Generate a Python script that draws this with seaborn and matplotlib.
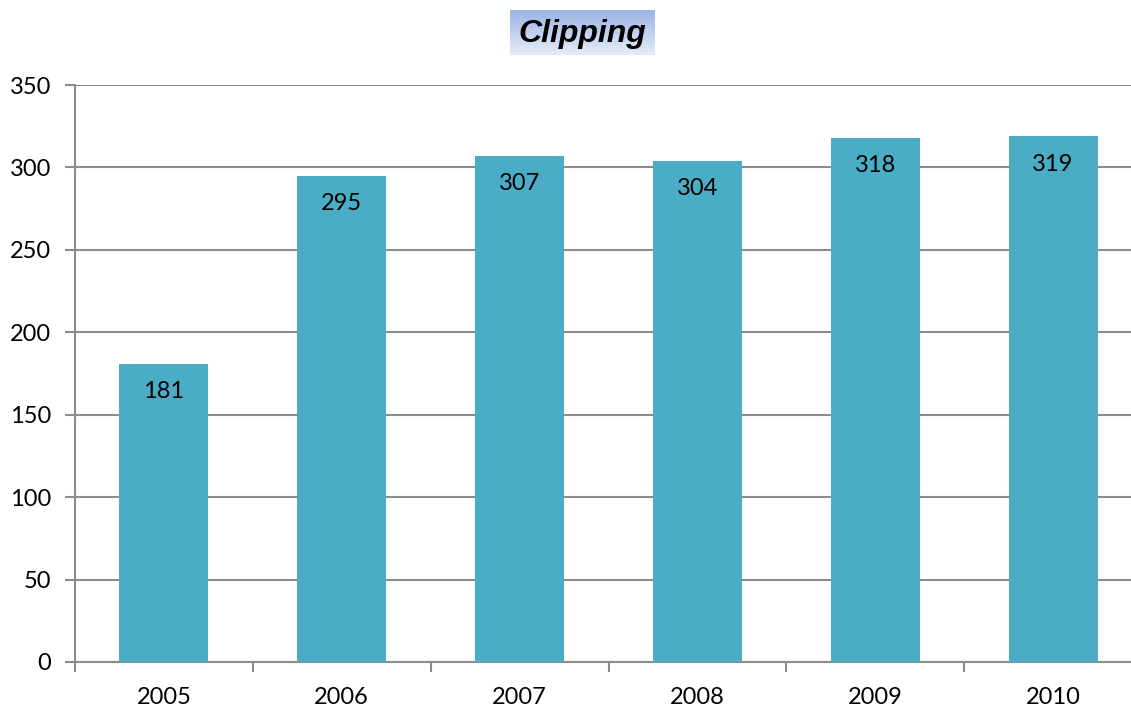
import numpy as np
import pandas as pd
import matplotlib
matplotlib.use("Agg")
import matplotlib.pyplot as plt
from matplotlib.colors import LinearSegmentedColormap
import seaborn as sns

years = ["2005", "2006", "2007", "2008", "2009", "2010"]
values = [181, 295, 307, 304, 318, 319]
y_ticks = [0, 50, 100, 150, 200, 250, 300, 350]

df = pd.DataFrame({"year": years, "value": values})

sns.set_style("white")
plt.rcParams['font.family'] = ['Lato', 'DejaVu Sans']

fig = plt.figure(figsize=(11.31, 7.08), dpi=100)
ax = fig.add_axes([75 / 1131, 46 / 708, 1067 / 1131, 577 / 708])

grid_col = "#8c8c8c"
bar_col = "#4bacc6"

sns.barplot(data=df, x="year", y="value", color=bar_col, width=0.5,
            saturation=1, linewidth=0, ax=ax, zorder=3)

ax.set_xlim(-0.5, 5.5)
ax.set_ylim(0, 350)
ax.set_yticks(y_ticks)
ax.yaxis.grid(True, color=grid_col, linewidth=1.5, zorder=0)
ax.set_axisbelow(True)
ax.set_xlabel("")
ax.set_ylabel("")

for s in ["top", "right"]:
    ax.spines[s].set_visible(False)
for s in ["left", "bottom"]:
    ax.spines[s].set_color(grid_col)
    ax.spines[s].set_linewidth(1.5)

ax.tick_params(axis="y", length=7, width=1.5, color=grid_col, direction="out",
               pad=10, labelsize=17, labelcolor="black", left=True)
ax.tick_params(axis="x", which="major", length=0, pad=18, labelsize=17,
               labelcolor="black")
ax.set_xticks(np.arange(-0.5, 6, 1), minor=True)
ax.tick_params(axis="x", which="minor", length=7, width=1.5, color=grid_col,
               direction="out", bottom=True)

for i, v in enumerate(values):
    ax.annotate(str(v), (i, v), xytext=(0, -28), textcoords="offset pixels",
                ha="center", va="center", fontsize=17, color="black", zorder=4)

# title box with gradient
tax = fig.add_axes([510 / 1131, 1 - 55 / 708, 145 / 1131, 45 / 708])
cmap = LinearSegmentedColormap.from_list("tb", ["#9ab3e4", "#e6ecf8"])
tax.imshow(np.linspace(0, 1, 100).reshape(-1, 1), aspect="auto", cmap=cmap,
           extent=[0, 1, 0, 1])
tax.set_axis_off()
tax.text(0.5, 0.47, "Clipping", ha="center", va="center", fontsize=23,
         fontweight="bold", fontstyle="italic", family=["Liberation Sans"],
         color="black", transform=tax.transAxes)

fig.savefig("out.png", dpi=100)
